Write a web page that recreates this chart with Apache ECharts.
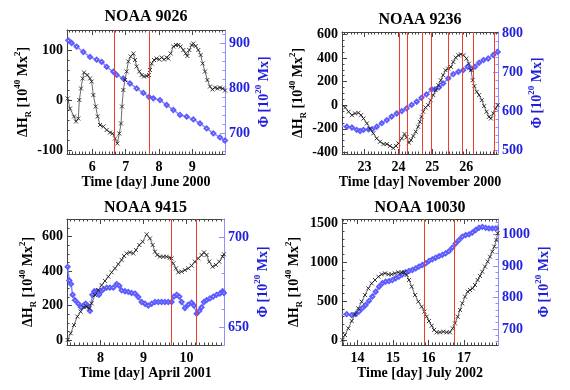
<!DOCTYPE html>
<html><head><meta charset="utf-8">
<script src="https://cdn.jsdelivr.net/npm/echarts@6/dist/echarts.min.js"></script>
<style>html,body{margin:0;padding:0;background:#fff}#c{width:570px;height:390px}</style>
</head><body><div id="c"></div>
<script>
// ---------- Panel 1: NOAA 9026 ----------
const p1Title = 'NOAA 9026';
const p1XName = 'Time [day] June 2000';
const p1XTicks = [6, 7, 8, 9];
const p1LeftTicks = [-100, 0, 100];
const p1RightTicks = [700, 800, 900];
const p1Flares = [6.65, 7.70];
const p1HrTime = [5.26,5.33,5.45,5.51,5.58,5.61,5.66,5.71,5.75,5.85,5.93,5.98,6.03,6.10,6.16,6.23,6.33,6.43,6.53,6.61,6.68,6.75,6.81,6.86,6.89,6.93,6.98,7.03,7.08,7.15,7.23,7.28,7.33,7.41,7.48,7.55,7.63,7.70,7.73,7.78,7.85,7.93,8.01,8.08,8.15,8.23,8.28,8.35,8.43,8.51,8.58,8.65,8.73,8.80,8.85,8.91,8.98,9.03,9.10,9.18,9.25,9.31,9.38,9.45,9.53,9.60,9.68,9.75,9.83,9.91,9.98];
const p1Hr = [3,-17,-33,-43,-37,0,23,43,55,50,43,37,10,-13,-33,-50,-53,-60,-65,-67,-77,-87,-67,-47,-13,20,40,57,77,87,93,80,67,57,50,47,48,50,60,73,80,83,81,85,81,85,83,93,107,110,110,107,100,93,88,100,110,113,108,100,90,73,57,40,27,21,25,23,25,23,19];
const p1PhiTime = [5.28,5.38,5.53,5.73,5.93,6.13,6.28,6.43,6.63,6.73,6.93,7.13,7.33,7.53,7.70,7.83,8.03,8.23,8.43,8.63,8.83,9.03,9.23,9.43,9.63,9.83,9.98];
const p1Phi = [907,901,893,881,870,864,859,848,837,830,822,811,800,790,781,778,774,763,752,741,737,731,722,711,700,691,684];

// ---------- Panel 2: NOAA 9236 ----------
const p2Title = 'NOAA 9236';
const p2XName = 'Time [day] November 2000';
const p2XTicks = [23, 24, 25, 26];
const p2LeftTicks = [-400, -200, 0, 200, 400, 600];
const p2RightTicks = [500, 600, 700, 800];
const p2Flares = [24.03, 24.25, 24.69, 24.98, 25.46, 25.88, 26.22, 26.84];
const p2HrTime = [22.33,22.43,22.53,22.63,22.72,22.82,22.90,22.97,23.07,23.16,23.26,23.36,23.46,23.56,23.66,23.75,23.85,23.93,24.00,24.10,24.18,24.24,24.31,24.37,24.44,24.51,24.58,24.63,24.68,24.73,24.80,24.88,24.95,25.03,25.10,25.18,25.25,25.32,25.39,25.47,25.55,25.62,25.69,25.77,25.84,25.92,26.01,26.08,26.14,26.19,26.24,26.31,26.38,26.46,26.53,26.60,26.67,26.73,26.80,26.87,26.93];
const p2Hr = [0,-20,-56,-85,-70,-65,-85,-113,-155,-197,-239,-282,-310,-330,-330,-346,-365,-346,-324,-282,-245,-273,-318,-296,-262,-225,-183,-141,-99,-56,-20,0,42,85,127,169,211,254,296,310,324,366,403,423,431,423,394,352,296,211,161,113,85,42,-8,-56,-99,-113,-70,-28,0];
const p2PhiTime = [22.33,22.48,22.63,22.77,22.87,22.97,23.12,23.23,23.36,23.51,23.66,23.80,23.95,24.10,24.24,24.39,24.54,24.68,24.83,24.98,25.08,25.20,25.32,25.47,25.62,25.77,25.91,26.04,26.14,26.26,26.38,26.51,26.65,26.80,26.93];
const p2Phi = [563,561,559,553,550,553,554,554,561,570,578,587,595,601,608,617,625,635,644,657,657,662,672,685,696,702,706,715,710,715,725,732,736,745,753];

// ---------- Panel 3: NOAA 9415 ----------
const p3Title = 'NOAA 9415';
const p3XName = 'Time [day] April 2001';
const p3XTicks = [8, 9, 10];
const p3LeftTicks = [0, 200, 400, 600];
const p3RightTicks = [650, 700];
const p3Flares = [9.65, 10.22];
const p3HrTime = [7.240,7.310,7.387,7.465,7.542,7.619,7.681,7.743,7.797,7.875,7.952,8.029,8.107,8.184,8.261,8.339,8.416,8.493,8.548,8.609,8.687,8.764,8.826,8.903,8.981,9.074,9.151,9.213,9.267,9.321,9.383,9.460,9.538,9.615,9.654,9.692,9.754,9.808,9.886,9.963,10.040,10.118,10.195,10.272,10.350,10.404,10.466,10.527,10.605,10.682,10.760,10.837,10.868];
const p3Hr = [0,39,87,136,165,190,194,184,213,261,290,319,343,368,393,416,441,465,488,503,509,503,523,552,571,614,590,552,513,494,484,484,484,478,474,445,416,393,397,406,416,432,455,474,494,509,494,455,426,436,455,484,498];
const p3PhiTime = [7.240,7.279,7.318,7.356,7.410,7.488,7.550,7.604,7.658,7.704,7.759,7.813,7.859,7.913,7.967,8.014,8.068,8.145,8.222,8.300,8.377,8.439,8.493,8.571,8.648,8.725,8.803,8.880,8.957,9.035,9.112,9.190,9.267,9.344,9.422,9.499,9.576,9.654,9.708,9.770,9.832,9.886,9.963,10.040,10.118,10.172,10.234,10.295,10.350,10.404,10.466,10.543,10.621,10.698,10.775,10.837,10.868];
const p3Phi = [683.6,676,674,668,665,663,661,662,663,662,659,668,670,670,668,670,671,672,672,672,674,673,670.5,670,669.6,669,668.7,666.8,664,663,662,663,664,664,664,664,664,664,667,668,667,664,660.6,662.5,663.6,662,657.5,659,661,664,665,666,667,668,668.7,670,669];

// ---------- Panel 4: NOAA 10030 ----------
const p4Title = 'NOAA 10030';
const p4XName = 'Time [day] July 2002';
const p4XTicks = [14, 15, 16, 17];
const p4LeftTicks = [0, 500, 1000, 1500];
const p4RightTicks = [700, 800, 900, 1000];
const p4Flares = [15.88, 16.72];
const p4HrTime = [13.573,13.648,13.742,13.836,13.930,14.023,14.117,14.211,14.305,14.399,14.493,14.587,14.681,14.775,14.869,14.962,15.056,15.150,15.244,15.319,15.385,15.451,15.526,15.620,15.714,15.808,15.883,15.948,16.014,16.089,16.155,16.230,16.324,16.418,16.512,16.606,16.681,16.746,16.822,16.887,16.953,17.028,17.103,17.169,17.244,17.310,17.385,17.451,17.516,17.592,17.667,17.732,17.798,17.854,17.911,17.948,17.977];
const p4Hr = [0,64,150,244,330,407,493,578,664,728,771,814,844,857,844,844,857,870,870,870,836,771,686,578,493,428,364,300,244,184,129,99,99,107,99,99,150,214,300,386,471,557,621,643,664,707,771,823,878,943,1007,1071,1136,1200,1285,1371,1457];
const p4PhiTime = [13.554,13.695,13.836,13.948,14.042,14.136,14.230,14.324,14.418,14.512,14.606,14.700,14.793,14.887,14.981,15.075,15.169,15.263,15.357,15.451,15.545,15.639,15.732,15.826,15.920,16.014,16.108,16.202,16.296,16.390,16.484,16.577,16.671,16.765,16.859,16.953,17.047,17.141,17.235,17.329,17.423,17.516,17.610,17.704,17.798,17.892,17.967];
const p4Phi = [747,747,744,747,755,766,776,789,803,818,834,845,850,852,855,861,866,873,880,884,887,892,898,903,908,916,921,926,931,935,940,947,958,971,982,993,998,1000,1006,1014,1021,1024,1021,1019,1019,1019,1030];

// ---------- styling / layout ----------
const FONT = '"Liberation Serif", "DejaVu Serif", serif';
const TXT = '#000';
const BLUE_TXT = '#1e1edc';
const FRAME = '#444';
const BLUE_LINE = '#8f8fff';
const RED = '#ec3d2d';

const layouts = [
  {grid:{left:67, top:30, width:158, height:124}, x:[5.24, 9.98], yl:[-108, 140], yr:[654, 930], xMinor:0.1, ylMinor:20, yrMinor:20, lGap:34, rGap:19, xGap:21, titleDy:13},
  {grid:{left:342, top:32, width:156, height:122}, x:[22.336, 26.938], yl:[-414, 620], yr:[491, 804], xMinor:0.1, ylMinor:50, yrMinor:20, lGap:33, rGap:24, xGap:21, titleDy:12},
  {grid:{left:67, top:219, width:157, height:126}, x:[7.225, 10.87], yl:[-29, 703], yr:[640, 710.3], xMinor:0.1, ylMinor:50, yrMinor:10, lGap:20, rGap:23, xGap:20, titleDy:11},
  {grid:{left:342, top:219, width:156, height:126}, x:[13.563, 17.958], yl:[-64, 1555], yr:[649, 1049], xMinor:0.1, ylMinor:100, yrMinor:20, lGap:38, rGap:31, xGap:20, titleDy:11}
];
const panels = [
  {title:p1Title, xName:p1XName, xTicks:p1XTicks, lTicks:p1LeftTicks, rTicks:p1RightTicks, flares:p1Flares, hrT:p1HrTime, hr:p1Hr, phiT:p1PhiTime, phi:p1Phi},
  {title:p2Title, xName:p2XName, xTicks:p2XTicks, lTicks:p2LeftTicks, rTicks:p2RightTicks, flares:p2Flares, hrT:p2HrTime, hr:p2Hr, phiT:p2PhiTime, phi:p2Phi},
  {title:p3Title, xName:p3XName, xTicks:p3XTicks, lTicks:p3LeftTicks, rTicks:p3RightTicks, flares:p3Flares, hrT:p3HrTime, hr:p3Hr, phiT:p3PhiTime, phi:p3Phi},
  {title:p4Title, xName:p4XName, xTicks:p4XTicks, lTicks:p4LeftTicks, rTicks:p4RightTicks, flares:p4Flares, hrT:p4HrTime, hr:p4Hr, phiT:p4PhiTime, phi:p4Phi}
];

function steps(min, max, step) {
  const out = [];
  for (let k = Math.ceil(min / step - 1e-9); k * step <= max + 1e-9; k++) out.push(+(k * step).toFixed(6));
  return out;
}
function zip(a, b) { return a.map((v, i) => [v, b[i]]); }
function rich(color) {
  return {
    n: {fontFamily: FONT, fontWeight: 'bold', fontSize: 14, color: color, lineHeight: 20},
    sup: {fontFamily: FONT, fontWeight: 'bold', fontSize: 9, color: color, lineHeight: 11, verticalAlign: 'top'},
    sub: {fontFamily: FONT, fontWeight: 'bold', fontSize: 9, color: color, lineHeight: 11, verticalAlign: 'bottom'}
  };
}
const plain = v => String(v);
const labelStyle = (color) => ({fontFamily: FONT, fontWeight: 'bold', fontSize: 14, color: color, formatter: plain});

const grids = [], xAxes = [], yAxes = [], series = [], graphics = [];
panels.forEach((p, i) => {
  const L = layouts[i];
  grids.push(Object.assign({containLabel: false}, L.grid));
  const base = {gridIndex: i, type: 'value', splitLine: {show: false}, splitArea: {show: false}};
  // x axes: bottom major, bottom minor, top major, top minor
  xAxes.push(Object.assign({}, base, {position: 'bottom', min: L.x[0], max: L.x[1],
    axisLine: {onZero: false, lineStyle: {color: FRAME, width: 1}},
    axisTick: {inside: true, length: 5, customValues: p.xTicks, lineStyle: {color: FRAME}},
    axisLabel: Object.assign({customValues: p.xTicks, margin: 6}, labelStyle(TXT)),
    name: p.xName, nameLocation: 'middle', nameGap: L.xGap,
    nameTextStyle: {fontFamily: FONT, fontWeight: 'bold', fontSize: 14, color: TXT}}));
  xAxes.push(Object.assign({}, base, {position: 'bottom', min: L.x[0], max: L.x[1],
    axisLine: {show: false, onZero: false},
    axisTick: {inside: true, length: 2.5, customValues: steps(L.x[0], L.x[1], L.xMinor), lineStyle: {color: FRAME}},
    axisLabel: {show: false}}));
  xAxes.push(Object.assign({}, base, {position: 'top', min: L.x[0], max: L.x[1],
    axisLine: {onZero: false, lineStyle: {color: FRAME, width: 1}},
    axisTick: {inside: true, length: 5, customValues: p.xTicks, lineStyle: {color: FRAME}},
    axisLabel: {show: false}}));
  xAxes.push(Object.assign({}, base, {position: 'top', min: L.x[0], max: L.x[1],
    axisLine: {show: false, onZero: false},
    axisTick: {inside: true, length: 2.5, customValues: steps(L.x[0], L.x[1], L.xMinor), lineStyle: {color: FRAME}},
    axisLabel: {show: false}}));
  // y axes: left major, left minor, right major, right minor
  yAxes.push(Object.assign({}, base, {position: 'left', min: L.yl[0], max: L.yl[1],
    axisLine: {onZero: false, lineStyle: {color: FRAME, width: 1}},
    axisTick: {inside: true, length: 5, customValues: p.lTicks, lineStyle: {color: FRAME}},
    axisLabel: Object.assign({customValues: p.lTicks, margin: 4}, labelStyle(TXT)),
    name: '{n|ΔH}{sub|R}{n| [10}{sup|40}{n| Mx}{sup|2}{n|]}', nameLocation: 'middle', nameGap: L.lGap,
    nameTextStyle: {rich: rich(TXT)}}));
  yAxes.push(Object.assign({}, base, {position: 'left', min: L.yl[0], max: L.yl[1],
    axisLine: {show: false, onZero: false},
    axisTick: {inside: true, length: 2.5, customValues: steps(L.yl[0], L.yl[1], L.ylMinor), lineStyle: {color: FRAME}},
    axisLabel: {show: false}}));
  yAxes.push(Object.assign({}, base, {position: 'right', min: L.yr[0], max: L.yr[1],
    axisLine: {onZero: false, lineStyle: {color: BLUE_LINE, width: 1}},
    axisTick: {inside: true, length: 5, customValues: p.rTicks, lineStyle: {color: BLUE_LINE}},
    axisLabel: Object.assign({customValues: p.rTicks, margin: 4}, labelStyle(BLUE_TXT)),
    name: '{n|Φ [10}{sup|20}{n| Mx]}', nameLocation: 'middle', nameGap: L.rGap,
    nameTextStyle: {rich: rich(BLUE_TXT)}}));
  yAxes.push(Object.assign({}, base, {position: 'right', min: L.yr[0], max: L.yr[1],
    axisLine: {show: false, onZero: false},
    axisTick: {inside: true, length: 2.5, customValues: steps(L.yr[0], L.yr[1], L.yrMinor), lineStyle: {color: BLUE_LINE}},
    axisLabel: {show: false}}));

  series.push({
    type: 'line', xAxisIndex: 4 * i, yAxisIndex: 4 * i + 2, data: zip(p.phiT, p.phi),
    symbol: 'emptyDiamond', symbolSize: 4, z: 2,
    lineStyle: {color: '#8a8aff', width: 1.5},
    itemStyle: {color: '#5c5cff', borderWidth: 0.8},
    animation: false, silent: true
  });
  series.push({
    type: 'line', xAxisIndex: 4 * i, yAxisIndex: 4 * i, data: zip(p.hrT, p.hr),
    symbol: 'path://M0,0L10,10M10,0L0,10', symbolSize: 4, z: 3,
    lineStyle: {color: '#444', width: 0.8},
    itemStyle: {color: '#111', borderColor: '#111', borderWidth: 0.8},
    animation: false, silent: true
  });
  // flare times as vertical red lines, placed through the x axis
  series.push({
    type: 'line', xAxisIndex: 4 * i, yAxisIndex: 4 * i, data: [], z: 4,
    color: RED, itemStyle: {color: RED}, lineStyle: {color: RED},
    animation: false, silent: true,
    markLine: {silent: true, symbol: 'none', animation: false, label: {show: false},
      lineStyle: {color: RED, width: 1, type: 'solid', opacity: 1},
      emphasis: {disabled: true},
      data: p.flares.map(f => ({xAxis: f}))}
  });
  graphics.push({type: 'text', x: L.grid.left + L.grid.width / 2, y: L.grid.top - L.titleDy,
    style: {text: p.title, fontFamily: FONT, fontWeight: 'bold', fontSize: 16, fill: TXT, align: 'center', verticalAlign: 'middle'}});
});

const chart = echarts.init(document.getElementById('c'), null, {renderer: 'canvas'});
chart.setOption({
  backgroundColor: '#fff',
  animation: false,
  grid: grids, xAxis: xAxes, yAxis: yAxes, series: series, graphic: graphics
});
</script>
</body></html>
